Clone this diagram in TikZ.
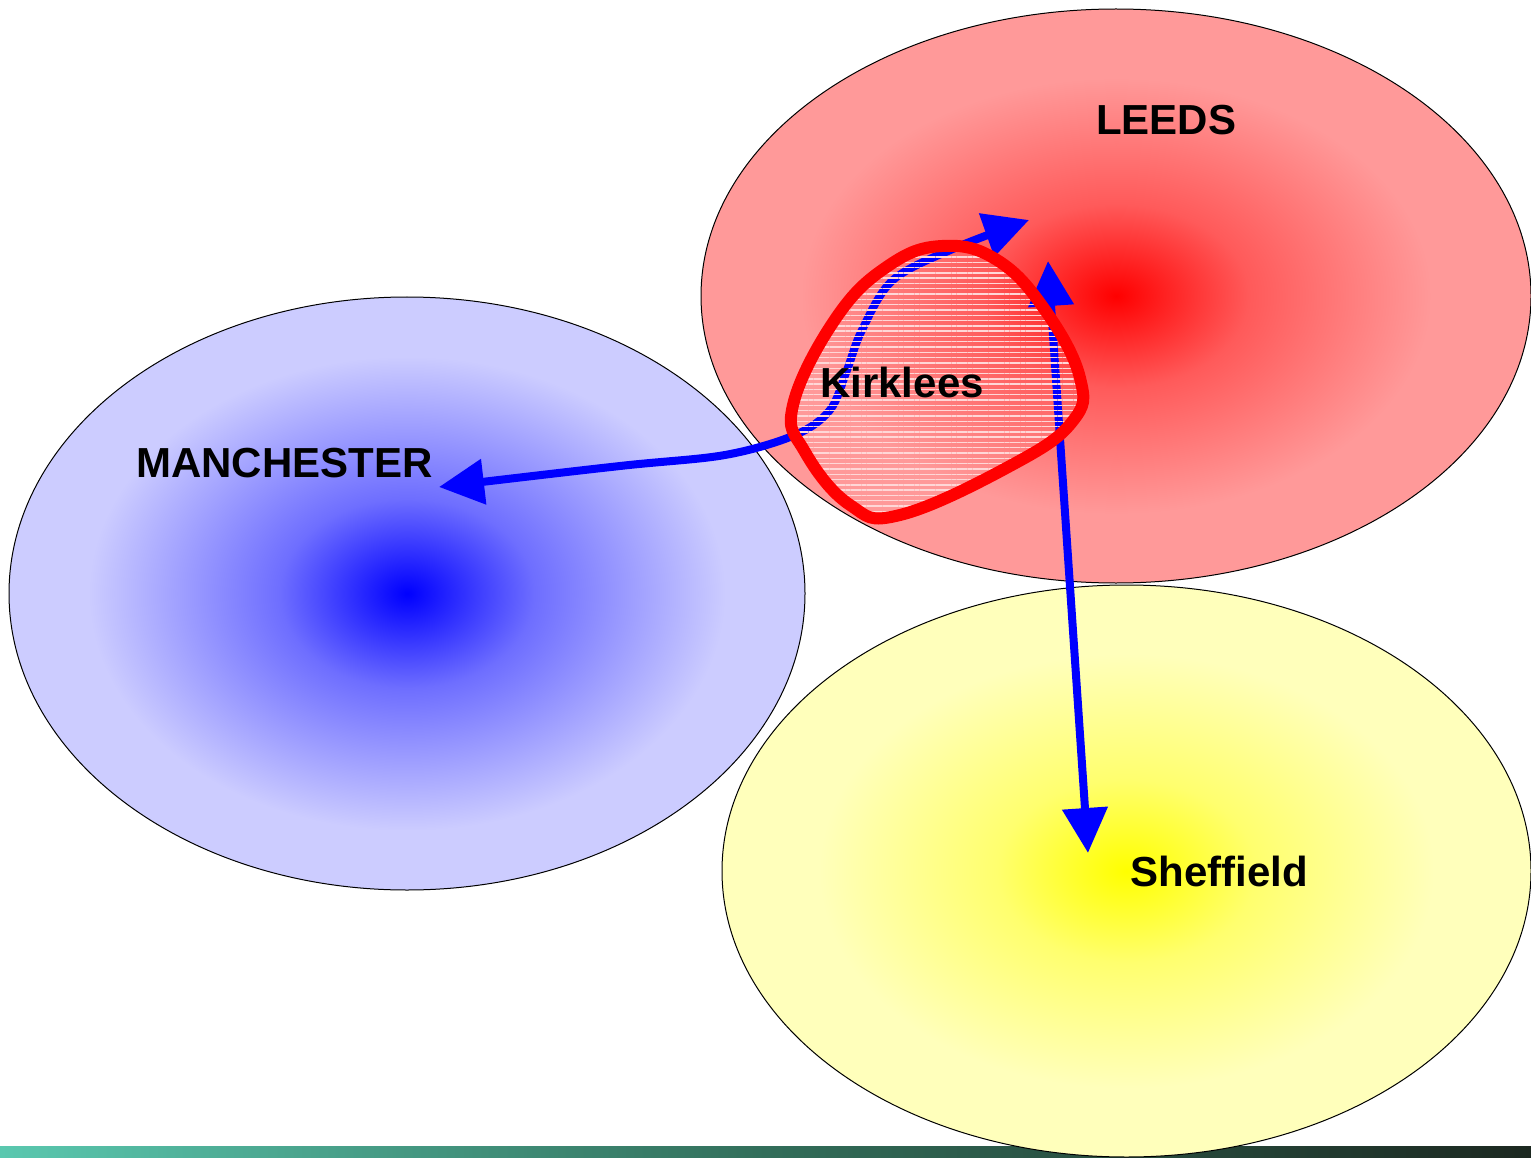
\documentclass[tikz,border=0pt]{standalone}
\usepackage{fontspec}
\setmainfont{Liberation Sans}
\usetikzlibrary{arrows.meta,patterns.meta}
\definecolor{leedsC}{RGB}{255,0,0}
\definecolor{leedsM}{RGB}{255,90,90}
\definecolor{leedsO}{RGB}{255,153,153}
\definecolor{manC}{RGB}{0,0,255}
\definecolor{manM}{RGB}{110,110,255}
\definecolor{manO}{RGB}{204,204,255}
\definecolor{shefC}{RGB}{255,255,0}
\definecolor{shefM}{RGB}{255,255,110}
\definecolor{shefO}{RGB}{255,255,187}
\definecolor{arrowblue}{RGB}{0,0,255}
\definecolor{kirkred}{RGB}{255,0,0}
\definecolor{hatch}{RGB}{255,215,215}
\definecolor{barL}{RGB}{90,200,175}
\definecolor{barM}{RGB}{50,110,90}
\definecolor{barR}{RGB}{28,40,32}
\pgfdeclareradialshading{leedsshade}{\pgfpoint{0bp}{0bp}}{color(0bp)=(leedsC); color(8bp)=(leedsM); color(19bp)=(leedsO); color(50bp)=(leedsO)}
\pgfdeclareradialshading{manshade}{\pgfpoint{0bp}{0bp}}{color(0bp)=(manC); color(8bp)=(manM); color(20bp)=(manO); color(50bp)=(manO)}
\pgfdeclareradialshading{shefshade}{\pgfpoint{0bp}{0bp}}{color(0bp)=(shefC); color(8bp)=(shefM); color(19bp)=(shefO); color(50bp)=(shefO)}
\tikzset{
  city/.style={draw=black, line width=1pt},
  citylabel/.style={font=\fontsize{42}{50}\selectfont\bfseries, text=black, anchor=base, inner sep=0pt},
  link/.style={draw=arrowblue, line width=8pt, line cap=butt,
    arrows={Triangle[length=45pt,width=44pt]-Triangle[length=45pt,width=44pt]}},
  kirk/.style={draw=kirkred, line width=12pt, line join=round},
}
\begin{document}
\begin{tikzpicture}[x=1pt,y=-1pt]
\useasboundingbox (0,0) rectangle (1531,1158);
% bottom bar
\shade[left color=barL, right color=barR, middle color=barM] (0,1146) rectangle (1531,1158);
% ellipses
\shade[shading=leedsshade] (1116,296) ellipse (415 and 287);
\draw[city] (1116,296) ellipse (415 and 287);
\shade[shading=manshade] (407,593.5) ellipse (398 and 296.5);
\draw[city] (407,593.5) ellipse (398 and 296.5);
\shade[shading=shefshade] (1126.5,871) ellipse (404.5 and 286);
\draw[city] (1126.5,871) ellipse (404.5 and 286);
% labels
\node[citylabel] (leeds) at (1166,135) {LEEDS};
\node[citylabel] (manchester) at (284.5,477) {MANCHESTER};
\node[citylabel] (sheffield) at (1219,886) {Sheffield};
% arrow end coordinates
\coordinate (manTip) at (439,487);
\coordinate (leedsTip) at (1029,220);
\coordinate (leedsTip2) at (1048,261);
\coordinate (shefTip) at (1088,853);
% arrows
\draw[link] plot[smooth, tension=0.55] coordinates {(manTip) (620,466) (725,455) (795,435) (830,410) (847,370) (862,330) (893,280) (955,248) (leedsTip)};
\draw[link] (leedsTip2) -- (shefTip);
% Kirklees area
\def\kirkpath{plot[smooth cycle, tension=0.7] coordinates {(793,405) (836,318) (888,266) (942,246) (997,260) (1045,310) (1080,378) (1072,422) (1010,466) (900,515) (850,505) (805,452)}}
\fill[pattern={Lines[angle=0,distance=5.3pt,line width=1.4pt]}, pattern color=hatch] \kirkpath;
\draw[kirk] \kirkpath;
\node[citylabel] (kirklees) at (902,397) {Kirklees};
\end{tikzpicture}
\end{document}
